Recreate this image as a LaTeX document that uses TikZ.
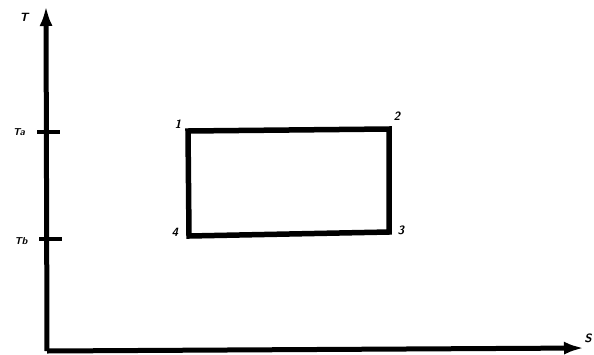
\documentclass[tikz,border=0pt]{standalone}
\usetikzlibrary{arrows.meta}
\begin{document}
\begin{tikzpicture}[x=1pt,y=-1pt,
  axis/.style={line width=5pt,-{Latex[length=20pt,width=13pt]}},
  cycle/.style={line width=5.5pt,line join=miter},
  tick/.style={line width=3.5pt},
  lab/.style={font=\sffamily\bfseries\itshape\large,inner sep=1pt},
  tlab/.style={font=\sffamily\bfseries\itshape\normalsize,inner sep=1pt}]
\useasboundingbox (0,0) rectangle (594,354);
\coordinate (O) at (47,351);
\coordinate (Ty) at (46,6);
\coordinate (Sx) at (584,348);
\draw[axis] (O) -- (Ty);
\draw[axis] (O) -- (Sx);
\node[lab] (T) at (24,17) {T};
\node[lab] (S) at (588,338) {S};
% ticks
\coordinate (ta1) at (37,132); \coordinate (ta2) at (60,132);
\coordinate (tb1) at (39,239); \coordinate (tb2) at (62,239);
\draw[tick] (ta1) -- (ta2);
\draw[tick] (tb1) -- (tb2);
\node[tlab] (Ta) at (19,132) {Ta};
\node[tlab] (Tb) at (21,241) {Tb};
% cycle
\coordinate (p1) at (188,131);
\coordinate (p2) at (389,129);
\coordinate (p3) at (389,232);
\coordinate (p4) at (189,236);
\draw[cycle] (p1) -- (p2) -- (p3) -- (p4) -- cycle;
\node[lab] (l1) at (178,124) {1};
\node[lab] (l2) at (397,116) {2};
\node[lab] (l3) at (401,230) {3};
\node[lab] (l4) at (175,232) {4};
\end{tikzpicture}
\end{document}
